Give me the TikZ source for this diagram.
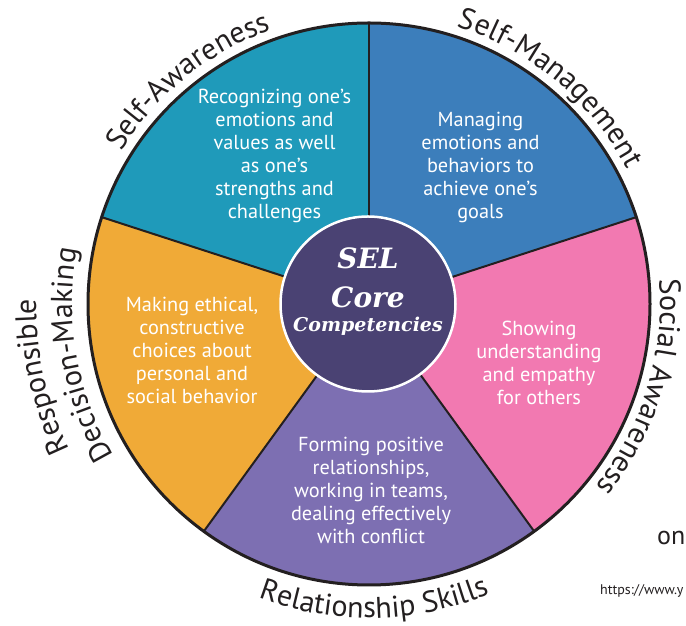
\documentclass[tikz,border=0pt]{standalone}
\usepackage{fontspec}
\setmainfont{PT Sans}
\newfontfamily\centerfont{DejaVu Serif}
\usetikzlibrary{decorations.text}
\definecolor{selteal}{HTML}{1F9ABA}
\definecolor{selblue}{HTML}{3C7EBB}
\definecolor{selpink}{HTML}{F279B1}
\definecolor{selpurple}{HTML}{7D6FB2}
\definecolor{selorange}{HTML}{F0AA37}
\definecolor{selcore}{HTML}{4A4273}
\definecolor{selink}{HTML}{231F20}
\newcommand{\outerfont}{\fontsize{30}{30}\selectfont}
\tikzset{
  bodytext/.style={font=\fontsize{20.3}{23}\selectfont, text=white, align=center, inner sep=0pt, anchor=base},
  coretext/.style={text=white, inner sep=0pt, anchor=base},
  divider/.style={draw=selink, line width=2pt},
  rimline/.style={draw=selink, line width=3pt},
}
\begin{document}
\begin{tikzpicture}[x=1pt,y=1pt]
\useasboundingbox (0,0) rectangle (686,626);
\coordinate (C) at (369,322);
% sectors
\begin{scope}[shift={(C)}]
\fill[selblue] (0,0) -- (18:281) arc[start angle=18,end angle=90,radius=281] -- cycle;
\fill[selteal] (0,0) -- (90:281) arc[start angle=90,end angle=162,radius=281] -- cycle;
\fill[selorange] (0,0) -- (162:281) arc[start angle=162,end angle=234,radius=281] -- cycle;
\fill[selpurple] (0,0) -- (234:281) arc[start angle=234,end angle=306,radius=281] -- cycle;
\fill[selpink] (0,0) -- (306:281) arc[start angle=306,end angle=378,radius=281] -- cycle;
\foreach \a in {90,18,-54,-126,162} \draw[divider] (0,0) -- (\a:281);
\draw[rimline] (0,0) circle[radius=281];
% outer labels
\path[decorate, decoration={text along path, text align=center, text color=selink, text={|\outerfont|Self-Awareness}}] (169:291) arc[start angle=169,end angle=89,radius=291];
\path[decorate, decoration={text along path, text align=center, text color=selink, text={|\outerfont|Self-Management}}] (90:291) arc[start angle=90,end angle=10,radius=291];
\path[decorate, decoration={text along path, text align=center, text color=selink, text={|\outerfont|Social Awareness}}] (23:291) arc[start angle=23,end angle=-57,radius=291];
\path[decorate, decoration={text along path, text align=center, text color=selink, text={|\outerfont|Relationship Skills}}] (-129:314) arc[start angle=-129,end angle=-49,radius=314];
\path[decorate, decoration={text along path, text align=center, text color=selink, text={|\outerfont|Responsible}}] (232.5:333) arc[start angle=232.5,end angle=152.5,radius=333];
\path[decorate, decoration={text along path, text align=center, text color=selink, text={|\outerfont|Decision-Making}}] (230:297) arc[start angle=230,end angle=150,radius=297];
\end{scope}
% core
\node[circle, fill=selcore, draw=white, line width=2.5pt, minimum size=175pt, inner sep=0pt] (core) at (368,322) {};
\node[coretext, font=\centerfont\bfseries\itshape\fontsize{28}{28}\selectfont] (sel) at (368,357) {SEL};
\node[coretext, font=\centerfont\bfseries\itshape\fontsize{28}{28}\selectfont] (corew) at (368,318) {Core};
\node[coretext, font=\centerfont\bfseries\itshape\fontsize{19}{19}\selectfont] (comp) at (368,294) {Competencies};
% body texts (anchor base = baseline of last line)
\node[bodytext] (tsa) at (274.5,407) {Recognizing one’s\\emotions and\\values as well\\as one’s\\strengths and\\challenges};
\node[bodytext] (tsm) at (480.5,407) {Managing\\emotions and\\behaviors to\\achieve one’s\\goals};
\node[bodytext] (tsoc) at (539,221) {Showing\\understanding\\and empathy\\for others};
\node[bodytext] (trel) at (371,82) {Forming positive\\relationships,\\working in teams,\\dealing effectively\\with conflict};
\node[bodytext] (trdm) at (192,222) {Making ethical,\\constructive\\choices about\\personal and\\social behavior};
% cropped fragments
\node[anchor=base west, inner sep=0pt, text=selink, font=\fontsize{26}{26}\selectfont] (on) at (657,81) {on};
\node[anchor=base west, inner sep=0pt, text=selink, font=\fontsize{14}{14}\selectfont] (url) at (600,31) {https://www.y};
\end{tikzpicture}
\end{document}
